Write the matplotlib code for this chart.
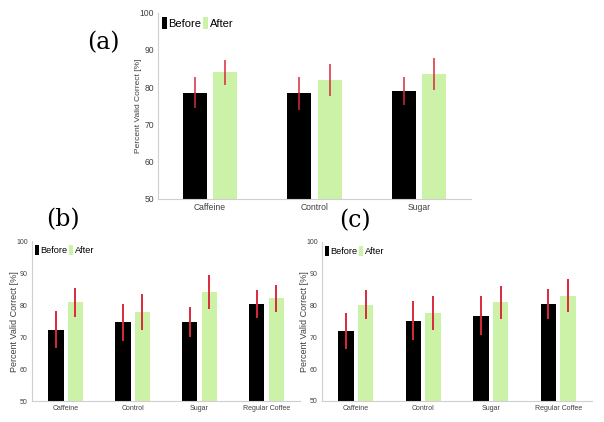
import numpy as np
import matplotlib
matplotlib.use('Agg')
import matplotlib.pyplot as plt
from matplotlib.patches import Patch

plt.rcParams['font.family'] = ['Liberation Sans', 'DejaVu Sans']

# panel (a)
cats_a = ['Caffeine', 'Control', 'Sugar']
before_a = [78.5, 78.3, 78.9]
before_a_err = [4.2, 4.5, 3.7]
after_a = [84.0, 81.9, 83.5]
after_a_err = [3.3, 4.4, 4.2]

# panel (b)
cats_b = ['Caffeine', 'Control', 'Sugar', 'Regular Coffee']
before_b = [72.4, 74.7, 74.8, 80.5]
before_b_err = [5.8, 5.8, 4.6, 4.4]
after_b = [80.9, 78.0, 84.2, 82.2]
after_b_err = [4.6, 5.6, 5.2, 4.2]

# panel (c)
cats_c = ['Caffeine', 'Control', 'Sugar', 'Regular Coffee']
before_c = [71.9, 75.3, 76.8, 80.6]
before_c_err = [5.7, 6.0, 6.1, 4.7]
after_c = [80.3, 77.6, 81.0, 83.1]
after_c_err = [4.5, 5.4, 5.2, 5.2]

yticks = [50, 60, 70, 80, 90, 100]

BLACK = '#000000'
GREEN = '#ccf2a8'
RED = '#d9293c'
SPINE = '#cfcfcf'


def draw_panel(ax, cats, before, before_err, after, after_err,
               tick_size, label_size, legend_size, err_lw, leg_anchor):
    x = np.arange(len(cats))
    w = 0.23
    off = 0.145
    ax.bar(x - off, before, w, color=BLACK, zorder=2)
    ax.bar(x + off, after, w, color=GREEN, zorder=2)
    ax.errorbar(x - off, before, yerr=before_err, fmt='none',
                ecolor=RED, elinewidth=err_lw, capsize=0, zorder=3)
    ax.errorbar(x + off, after, yerr=after_err, fmt='none',
                ecolor=RED, elinewidth=err_lw, capsize=0, zorder=3)

    ax.set_xlim(-0.5, len(cats) - 0.5)
    ax.set_ylim(50, 100)
    ax.set_yticks(yticks)
    ax.set_xticks(x)
    ax.set_xticklabels(cats)
    ax.tick_params(axis='both', length=0, labelsize=tick_size,
                   labelcolor='#404040', pad=3)
    ax.set_ylabel('Percent Valid Correct [%]', fontsize=label_size,
                  color='#404040', labelpad=-2)

    for s in ['top', 'right']:
        ax.spines[s].set_visible(False)
    for s in ['left', 'bottom']:
        ax.spines[s].set_color(SPINE)
        ax.spines[s].set_linewidth(0.8)

    handles = [Patch(facecolor=BLACK), Patch(facecolor=GREEN)]
    ax.legend(handles, ['Before', 'After'], ncol=2, frameon=False,
              loc='upper left', bbox_to_anchor=leg_anchor,
              fontsize=legend_size, handlelength=0.45, handleheight=1.3,
              handletextpad=0.15, columnspacing=0.15, borderpad=0,
              borderaxespad=0)


fig = plt.figure(figsize=(6.04, 4.22), dpi=100)

ax_a = fig.add_axes([0.2616, 0.5291, 0.5182, 0.4408])
draw_panel(ax_a, cats_a, before_a, before_a_err, after_a, after_a_err,
           6.2, 6, 8, 1.1, (0.012, 0.975))

ax_b = fig.add_axes([0.053, 0.049, 0.4437, 0.3791])
draw_panel(ax_b, cats_b, before_b, before_b_err, after_b, after_b_err,
           5, 6.5, 6.6, 1.4, (0.012, 0.975))

ax_c = fig.add_axes([0.5331, 0.0498, 0.447, 0.3768])
draw_panel(ax_c, cats_c, before_c, before_c_err, after_c, after_c_err,
           5, 6.5, 6.6, 1.4, (0.012, 0.975))

fig.text(0.1705, 0.898, '(a)', fontsize=17, family='DejaVu Serif',
         ha='center', va='center')
fig.text(0.104, 0.479, '(b)', fontsize=17, family='DejaVu Serif',
         ha='center', va='center')
fig.text(0.588, 0.477, '(c)', fontsize=17, family='DejaVu Serif',
         ha='center', va='center')

fig.savefig('out.png', dpi=100)
